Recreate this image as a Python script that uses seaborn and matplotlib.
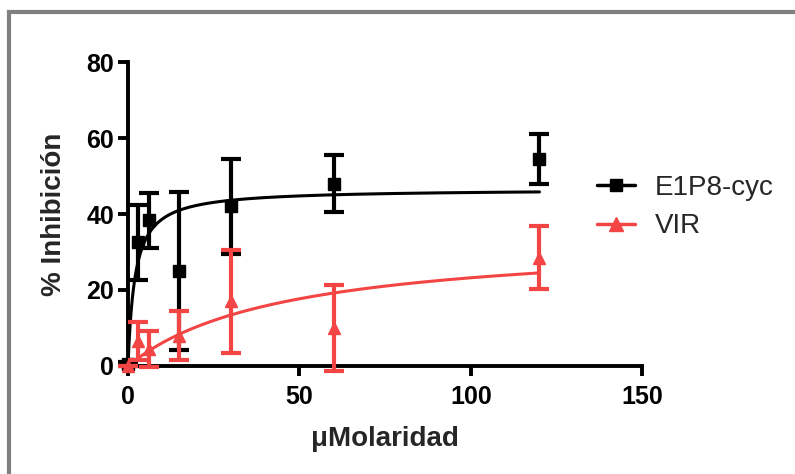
import numpy as np
import pandas as pd
import seaborn as sns
import matplotlib
matplotlib.use("Agg")
import matplotlib.pyplot as plt
from matplotlib.lines import Line2D
from matplotlib.patches import Rectangle

# ---- data ----
conc = [0, 3, 6, 15, 30, 60, 120]
e1p8_mean = [0.5, 32.5, 38.3, 25.0, 42.0, 48.0, 54.5]
e1p8_err = [0.5, 9.8, 7.3, 20.8, 12.5, 7.5, 6.5]
vir_mean = [0.0, 6.5, 4.5, 8.0, 17.0, 10.0, 28.5]
vir_err = [0.0, 5.0, 4.8, 6.5, 13.5, 11.3, 8.3]
# one-site hyperbolic fit parameters (Bmax, Kd) as drawn
e1p8_fit = [46.6, 2.05]
vir_fit = [33.8, 45.6]
series_names = ["E1P8-cyc", "VIR"]
colors = ["#000000", "#F44545"]
x_ticks = [0, 50, 100, 150]
y_ticks = [0, 20, 40, 60, 80]

sns.set_theme(style="white")
plt.rcParams["font.family"] = ["Liberation Sans", "DejaVu Sans"]

fig = plt.figure(figsize=(7.95, 4.74), dpi=100)
ax = fig.add_axes([0.161, 0.228, 0.647, 0.641])

xs = np.linspace(0, 120, 400)
fits = []
for name, (bmax, kd) in zip(series_names, [e1p8_fit, vir_fit]):
    fits.append(pd.DataFrame({"x": xs, "y": bmax * xs / (kd + xs), "s": name}))
fit_df = pd.concat(fits)
sns.lineplot(data=fit_df, x="x", y="y", hue="s", palette=colors, ax=ax,
             linewidth=2.2, legend=False, zorder=2)

for xm, ym, ye, mk, col, ms, z in [
        (conc, e1p8_mean, e1p8_err, "s", colors[0], 8.5, 3),
        (conc, vir_mean, vir_err, "^", colors[1], 9, 4)]:
    eb = ax.errorbar(xm, ym, yerr=ye, fmt=mk, color=col, markersize=ms,
                     elinewidth=3, capsize=7, capthick=3, zorder=z)
    for art in eb.get_children():
        art.set_clip_on(False)

ax.set_xlim(0, 150)
ax.set_ylim(0, 80)
ax.set_xticks(x_ticks)
ax.set_yticks(y_ticks)
for s in ["top", "right"]:
    ax.spines[s].set_visible(False)
for s in ["left", "bottom"]:
    ax.spines[s].set_linewidth(2.8)
    ax.spines[s].set_color("black")
ax.tick_params(axis="both", direction="out", length=7, width=2.8,
               colors="black", labelsize=18, left=True, bottom=True)
ax.tick_params(axis="y", pad=3)
ax.tick_params(axis="x", pad=7)
for lab in ax.get_xticklabels() + ax.get_yticklabels():
    lab.set_fontweight("bold")
ax.set_xlabel("\u03bcMolaridad", fontsize=20, fontweight="bold", labelpad=12)
ax.set_ylabel("% Inhibición", fontsize=20, fontweight="bold", labelpad=14)

handles = [
    Line2D([0], [0], color=colors[0], marker="s", markersize=9, linewidth=2.5),
    Line2D([0], [0], color=colors[1], marker="^", markersize=10, linewidth=2.5),
]
leg = ax.legend(handles, series_names, loc="center left",
                bbox_to_anchor=(0.912, 0.523), frameon=False, fontsize=20,
                handlelength=1.37, handletextpad=0.72, labelspacing=0.45,
                borderpad=0, borderaxespad=0)

fig.patches.append(Rectangle((9 / 795, -0.05), 1.1, 1 - 12 / 474 + 0.05,
                             transform=fig.transFigure, fill=False,
                             edgecolor="#808080", linewidth=3))

fig.savefig("out.png", dpi=100)
